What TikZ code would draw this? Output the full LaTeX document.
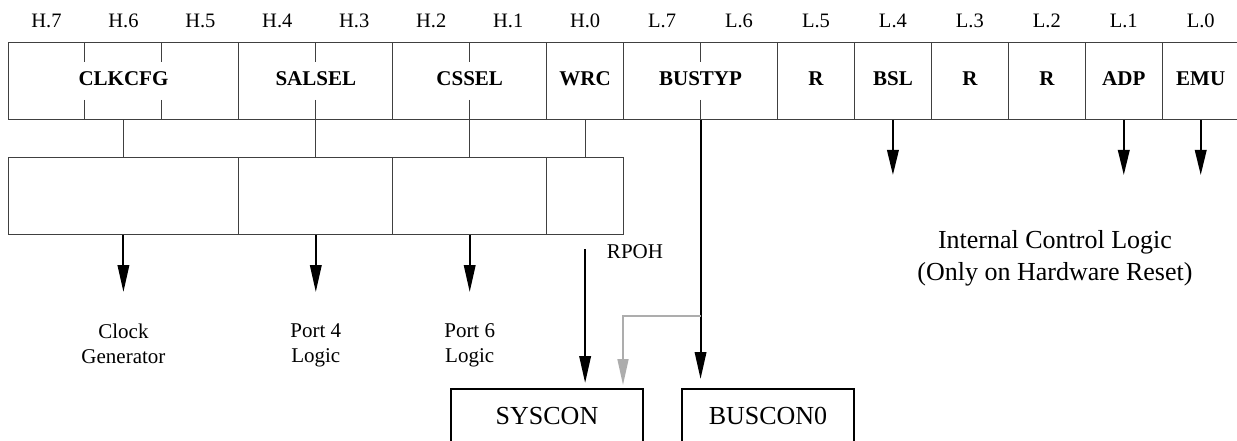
\documentclass[tikz,border=0pt]{standalone}
\usepackage{fontspec}
\setmainfont{Liberation Serif}
\usetikzlibrary{arrows.meta}
\begin{document}
\begin{tikzpicture}[x=1pt,y=-1pt,
  thinline/.style={draw=black!75, line width=1pt},
  field/.style={draw=black!75, line width=1pt, minimum height=77pt, inner sep=0pt,
    font=\fontsize{21}{25}\selectfont\bfseries, text height=14pt, text depth=5pt},
  bitlbl/.style={font=\fontsize{20.5}{24}\selectfont, anchor=base, inner sep=0pt},
  lowbox/.style={draw=black!75, line width=1pt, minimum height=76pt, inner sep=0pt},
  sig/.style={line width=2pt, -{Triangle[length=27pt,width=11.5pt]}},
  shortsig/.style={line width=2pt, -{Triangle[length=25pt,width=11.5pt]}},
  graysig/.style={draw=black!32, line width=1.6pt, -{Triangle[length=26pt,width=11pt,fill=black!32]}},
  txt/.style={font=\fontsize{21}{25}\selectfont, align=center, inner sep=0pt},
  bigtxt/.style={font=\fontsize{26}{32}\selectfont, align=center, inner sep=0pt},
  destbox/.style={draw, line width=1.8pt, minimum height=60pt, anchor=north, inner sep=0pt,
    font=\fontsize{26}{30}\selectfont, text height=17.5pt, text depth=5.5pt}
]
\useasboundingbox (0,0) rectangle (1237,441);
\def\w{76.95}
% bit labels
\foreach \i/\t in {0/H.7,1/H.6,2/H.5,3/H.4,4/H.3,5/H.2,6/H.1,7/H.0,8/L.7,9/L.6,10/L.5,11/L.4,12/L.3,13/L.2,14/L.1,15/L.0}
  \node[bitlbl] (b\i) at ({8+(\i+0.5)*\w},27.3) {\t};
% register fields
\foreach \nm/\s/\n/\t in {clk/0/3/CLKCFG, sal/3/2/SALSEL, css/5/2/CSSEL, wrc/7/1/WRC, bus/8/2/BUSTYP, rfive/10/1/R, bsl/11/1/BSL, rthree/12/1/R, rtwo/13/1/R, adp/14/1/ADP, emu/15/1/EMU}
  \node[field, minimum width={\n*\w*1pt}] (\nm) at ({8+(\s+\n/2)*\w},81.5) {\t};
% partial bit dividers
\foreach \k in {1,2,4,6,9} {
  \draw[thinline] ({8+\k*\w},43) -- ({8+\k*\w},62.5);
  \draw[thinline] ({8+\k*\w},100) -- ({8+\k*\w},120);
}
% second row
\node[lowbox, minimum width={3*\w*1pt}] (gclk) at ({8+1.5*\w},196) {};
\node[lowbox, minimum width={2*\w*1pt}] (gsal) at ({8+4*\w},196) {};
\node[lowbox, minimum width={2*\w*1pt}] (gcss) at ({8+6*\w},196) {};
\node[lowbox, minimum width={\w*1pt}] (gwrc) at ({8+7.5*\w},196) {};
\draw[thinline] (clk.south) -- (gclk.north);
\draw[thinline] (sal.south) -- (gsal.north);
\draw[thinline] (css.south) -- (gcss.north);
\draw[thinline] (wrc.south) -- (gwrc.north);
% outputs
\coordinate (eclk) at ({8+1.5*\w},292);
\coordinate (esal) at ({8+4*\w},292);
\coordinate (ecss) at ({8+6*\w},292);
\draw[sig] (gclk.south) -- (eclk);
\draw[sig] (gsal.south) -- (esal);
\draw[sig] (gcss.south) -- (ecss);
\node[txt, anchor=north] (lclk) at ({8+1.5*\w},323.7) {Clock\\Generator};
\node[txt, anchor=north] (lsal) at ({8+4*\w},323.7) {Port 4\\Logic};
\node[txt, anchor=north] (lcss) at ({8+6*\w},323.7) {Port 6\\Logic};
% destination registers
\node[destbox, minimum width=192pt] (syscon) at (547,388) {SYSCON};
\node[destbox, minimum width=172pt] (buscon) at (768,388) {BUSCON0};
\coordinate (rp) at ({8+7.5*\w},249);
\draw[sig, shorten >=5pt] (rp) -- (rp |- syscon.north);
\node[txt, anchor=base] (rpoh) at (635,258) {RPOH};
\draw[sig, shorten >=9pt] (bus.south) -- (bus.south |- buscon.north);
\coordinate (br) at ({8+9*\w},316);
\coordinate (gt) at (623,388);
\draw[graysig, shorten >=3pt] (br) -| (gt);
% low byte signals
\coordinate (ebsl) at ({8+11.5*\w},175);
\coordinate (eadp) at ({8+14.5*\w},175);
\coordinate (eemu) at ({8+15.5*\w},175);
\draw[shortsig] (bsl.south) -- (ebsl);
\draw[shortsig] (adp.south) -- (eadp);
\draw[shortsig] (emu.south) -- (eemu);
\node[bigtxt, anchor=north] (icl) at (1055,230) {Internal Control Logic\\(Only on Hardware Reset)};
\end{tikzpicture}
\end{document}
